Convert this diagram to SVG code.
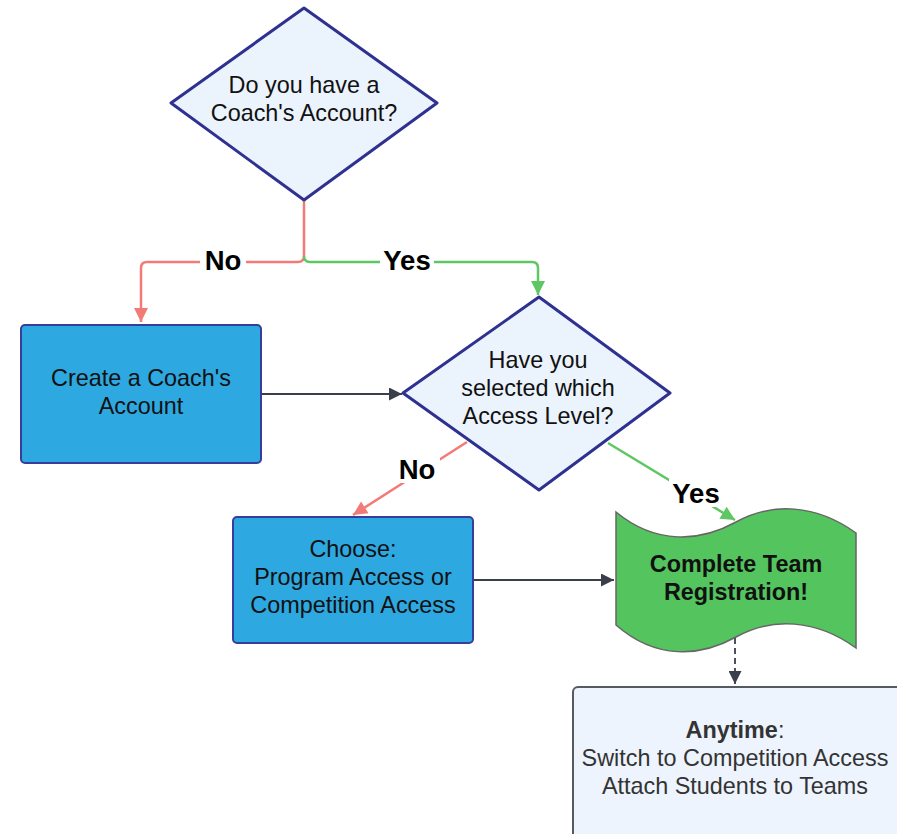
<svg xmlns="http://www.w3.org/2000/svg" width="897" height="834" viewBox="0 0 897 834">
<style>
text{font-family:"Liberation Sans",Arial,sans-serif;text-anchor:middle}
.t{font-size:23.4px;fill:#111}
.lbl{font-size:27.5px;font-weight:bold;fill:#000}
.dia{fill:#ebf3fd;stroke:#2e3190;stroke-width:3;stroke-linejoin:round}
.box{fill:#2ea8e0;stroke:#363d9a;stroke-width:2}
.red{fill:none;stroke:#f37b77;stroke-width:2.5}
.grn{fill:none;stroke:#5ec763;stroke-width:2.5}
.drk{fill:none;stroke:#3b3f4c;stroke-width:1.8}
</style>
<defs>
<marker id="ar" viewBox="0 0 10 10" refX="10" refY="5" markerWidth="15" markerHeight="14" orient="auto" markerUnits="userSpaceOnUse"><path d="M0,0 L10,5 L0,10 Z" fill="#f37b77"/></marker>
<marker id="ag" viewBox="0 0 10 10" refX="10" refY="5" markerWidth="15" markerHeight="14" orient="auto" markerUnits="userSpaceOnUse"><path d="M0,0 L10,5 L0,10 Z" fill="#5ec763"/></marker>
<marker id="ad" viewBox="0 0 10 10" refX="10" refY="5" markerWidth="14" markerHeight="13" orient="auto" markerUnits="userSpaceOnUse"><path d="M0,0 L10,5 L0,10 Z" fill="#3b3f4c"/></marker>
</defs>
<rect width="897" height="834" fill="#fff"/>
<g id="connectors">
<path class="red" d="M304,200 V256 Q304,262 298,262 H147 Q141,262 141,268 V322" marker-end="url(#ar)"/>
<path class="grn" d="M304,256 Q304,262 310,262 H532 Q538,262 538,268 V295" marker-end="url(#ag)"/>
<path class="drk" d="M261,394 H402" marker-end="url(#ad)"/>
<path class="red" d="M467,442 L353,515" marker-end="url(#ar)"/>
<path class="grn" d="M608,443 L735,520" marker-end="url(#ag)"/>
<path class="drk" d="M473,580 H614" marker-end="url(#ad)"/>
<path class="drk" d="M735,638 V684" stroke-dasharray="6,4" marker-end="url(#ad)"/>
<rect x="200" y="246" width="46" height="28" fill="#fff"/>
<text class="lbl" x="223" y="270">No</text>
<rect x="380" y="246" width="54" height="28" fill="#fff"/>
<text class="lbl" x="407" y="270">Yes</text>
<rect x="394" y="455" width="46" height="28" fill="#fff"/>
<text class="lbl" x="417" y="479">No</text>
<rect x="669" y="479" width="54" height="28" fill="#fff"/>
<text class="lbl" x="696" y="503">Yes</text>
</g>
<g id="q1">
<path class="dia" d="M304,8 L437,103 L304,200 L171,103 Z"/>
<text class="t" x="304" y="93">Do you have a</text>
<text class="t" x="304" y="121">Coach's Account?</text>
</g>
<g id="create">
<rect class="box" x="21" y="325" width="240" height="138" rx="4"/>
<text class="t" x="141" y="386">Create a Coach's</text>
<text class="t" x="141" y="414">Account</text>
</g>
<g id="q2">
<path class="dia" d="M539,297 L670,393 L539,490 L403,393 Z"/>
<text class="t" x="538" y="368">Have you</text>
<text class="t" x="538" y="396">selected which</text>
<text class="t" x="538" y="424">Access Level?</text>
</g>
<g id="choose">
<rect class="box" x="233" y="517" width="240" height="126" rx="4"/>
<text class="t" x="353" y="557">Choose:</text>
<text class="t" x="353" y="585">Program Access or</text>
<text class="t" x="353" y="613">Competition Access</text>
</g>
<g id="complete">
<path d="M616,512 C656,545 700,542 736,522 C772,502 816,504 856,533 V648 C816,619 772,617 736,637 C700,657 656,660 616,625 Z" fill="#54c45e" stroke="#666" stroke-width="1.5"/>
<text class="t" x="736" y="572" font-weight="bold" fill="#000">Complete Team</text>
<text class="t" x="736" y="600" font-weight="bold" fill="#000">Registration!</text>
</g>
<g id="anytime">
<rect x="573" y="687" width="330" height="160" rx="5" fill="#edf4fd" stroke="#555a63" stroke-width="2"/>
<text x="735" y="738" font-size="23.4" fill="#333"><tspan font-weight="bold">Anytime</tspan>:</text>
<text x="735" y="766" font-size="23.4" fill="#333">Switch to Competition Access</text>
<text x="735" y="794" font-size="23.4" fill="#333">Attach Students to Teams</text>
</g>
</svg>
